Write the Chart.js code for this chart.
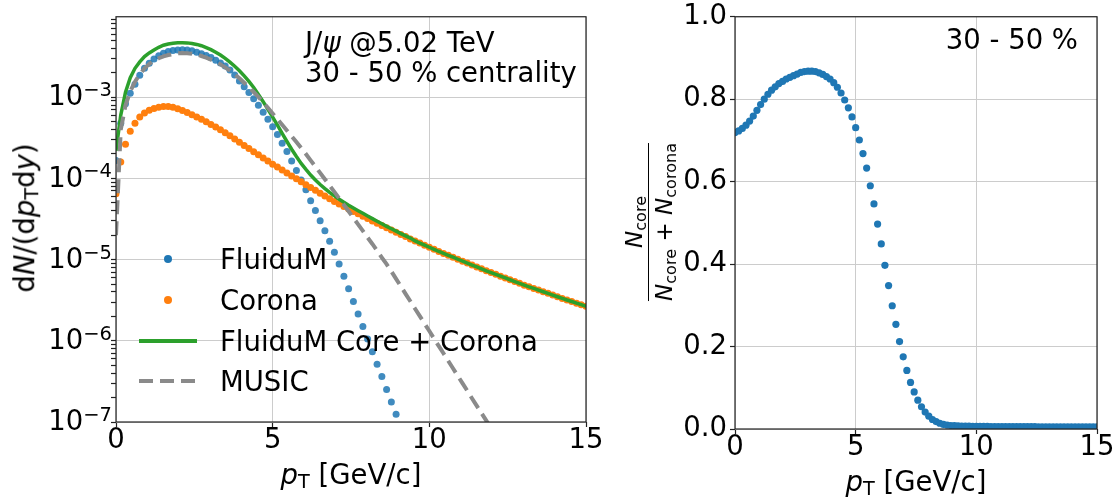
<!DOCTYPE html>
<html>
<head>
<meta charset="utf-8">
<script src="https://cdn.jsdelivr.net/npm/chart.js@4.4.1/dist/chart.umd.min.js"></script>
<style>
  body { margin: 0; width: 1116px; height: 503px; background: #fff; position: relative; overflow: hidden;
         font-family: 'DejaVu Sans', sans-serif; }
  canvas { position: absolute; top: 0; }
  #spectrum { left: 0; }
  #fraction { left: 600px; }
  .t { position: absolute; font-size: 27.5px; line-height: 27.5px; white-space: nowrap; color: #000; }
  .t i { font-style: italic; }
  .t sub { font-size: 0.7em; vertical-align: -0.22em; line-height: 0; }
  .rot { transform: translate(-50%, -50%) rotate(-90deg); }
  .frac { display: inline-flex; flex-direction: column; align-items: center; font-size: 23px; }
  .frac span { line-height: 26px; }
  .frac .bar { align-self: stretch; border-top: 1.4px solid #000; margin: 1px 0 2px 0; }
  .sw { position: absolute; }
</style>
</head>
<body>
<canvas id="spectrum" width="640" height="503"></canvas>
<canvas id="fraction" width="516" height="503"></canvas>

<!-- axis titles -->
<div class="t rot" style="left:25px; top:218px;">d<i>N</i>/(d<i>p</i><sub>T</sub>d<i>y</i>)</div>
<div class="t" style="left:351px; top:461px; transform:translateX(-50%);"><i>p</i><sub>T</sub> [GeV/c]</div>
<div class="t" style="left:916px; top:468px; transform:translateX(-50%);"><i>p</i><sub>T</sub> [GeV/c]</div>
<div class="t rot" style="left:648px; top:222px;">
  <div class="frac">
    <span><i>N</i><sub>core</sub></span>
    <div class="bar"></div>
    <span><i>N</i><sub>core</sub> + <i>N</i><sub>corona</sub></span>
  </div>
</div>

<!-- annotations -->
<div class="t" style="left:305px; top:27px; line-height:30px;">J/<i>ψ</i> @5.02 TeV<br>30 - 50 % centrality</div>
<div class="t" style="right:38px; top:26px;">30 - 50 %</div>

<!-- legend -->
<div class="sw" style="left:164px; top:255px; width:8px; height:8px; border-radius:50%; background:#1f77b4;"></div>
<div class="sw" style="left:164px; top:296px; width:8px; height:8px; border-radius:50%; background:#ff7f0e;"></div>
<div class="sw" style="left:139px; top:339px; width:58px; height:4px; background:#2ca02c;"></div>
<div class="sw" style="left:139px; top:379px; width:58px; height:4px;
     background:repeating-linear-gradient(to right, #8a8a8a 0 14px, transparent 14px 21px);"></div>
<div class="t" style="left:220px; top:246px;">FluiduM</div>
<div class="t" style="left:220px; top:287px;">Corona</div>
<div class="t" style="left:220px; top:328px;">FluiduM Core + Corona</div>
<div class="t" style="left:220px; top:368px;">MUSIC</div>

<script>
// transverse momentum grid, GeV/c
const pT = [
  0, 0.152, 0.303, 0.455, 0.606, 0.758, 0.909, 1.061, 1.212, 1.364,
  1.515, 1.667, 1.818, 1.970, 2.121, 2.273, 2.424, 2.576, 2.727, 2.879,
  3.030, 3.182, 3.333, 3.485, 3.636, 3.788, 3.939, 4.091, 4.242, 4.394,
  4.545, 4.697, 4.848, 5.000, 5.152, 5.303, 5.455, 5.606, 5.758, 5.909,
  6.061, 6.212, 6.364, 6.515, 6.667, 6.818, 6.970, 7.121, 7.273, 7.424,
  7.576, 7.727, 7.879, 8.030, 8.182, 8.333, 8.485, 8.636, 8.788, 8.939,
  9.091, 9.242, 9.394, 9.545, 9.697, 9.848, 10.000, 10.152, 10.303, 10.455,
  10.606, 10.758, 10.909, 11.061, 11.212, 11.364, 11.515, 11.667, 11.818, 11.970,
  12.121, 12.273, 12.424, 12.576, 12.727, 12.879, 13.030, 13.182, 13.333, 13.485,
  13.636, 13.788, 13.939, 14.091, 14.242, 14.394, 14.545, 14.697, 14.848, 15.000
];

// dN/(dpT dy), FluiduM core (points below 1e-7 are left out)
const fluidum = [
  1.66e-4, 4.79e-4, 8.32e-4, 1.12e-3, 1.45e-3, 1.86e-3, 2.27e-3, 2.63e-3, 2.95e-3, 3.24e-3,
  3.47e-3, 3.65e-3, 3.76e-3, 3.82e-3, 3.85e-3, 3.82e-3, 3.73e-3, 3.59e-3, 3.43e-3, 3.26e-3,
  3.08e-3, 2.86e-3, 2.64e-3, 2.42e-3, 2.16e-3, 1.88e-3, 1.59e-3, 1.35e-3, 1.14e-3, 9.55e-4,
  7.94e-4, 6.53e-4, 5.37e-4, 4.32e-4, 3.47e-4, 2.72e-4, 2.14e-4, 1.64e-4, 1.25e-4, 9.55e-5,
  7.24e-5, 5.31e-5, 4.03e-5, 3.02e-5, 2.27e-5, 1.68e-5, 1.23e-5, 8.81e-6, 6.24e-6, 4.37e-6,
  3.05e-6, 2.14e-6, 1.50e-6, 1.05e-6, 7.33e-7, 5.13e-7, 3.63e-7, 2.51e-7, 1.76e-7, 1.25e-7
];

// corona contribution
const corona = [
  6.46e-5, 1.59e-4, 2.63e-4, 3.80e-4, 4.79e-4, 5.69e-4, 6.38e-4, 6.92e-4, 7.28e-4, 7.55e-4,
  7.69e-4, 7.67e-4, 7.50e-4, 7.21e-4, 6.87e-4, 6.49e-4, 6.10e-4, 5.71e-4, 5.35e-4, 4.99e-4,
  4.63e-4, 4.30e-4, 3.98e-4, 3.66e-4, 3.35e-4, 3.05e-4, 2.79e-4, 2.54e-4, 2.33e-4, 2.13e-4,
  1.95e-4, 1.79e-4, 1.64e-4, 1.50e-4, 1.38e-4, 1.27e-4, 1.17e-4, 1.07e-4, 9.89e-5, 9.10e-5,
  8.38e-5, 7.73e-5, 7.13e-5, 6.58e-5, 6.08e-5, 5.62e-5, 5.21e-5, 4.84e-5, 4.50e-5, 4.19e-5,
  3.91e-5, 3.66e-5, 3.42e-5, 3.21e-5, 3.00e-5, 2.81e-5, 2.63e-5, 2.47e-5, 2.32e-5, 2.18e-5,
  2.04e-5, 1.92e-5, 1.80e-5, 1.69e-5, 1.60e-5, 1.50e-5, 1.42e-5, 1.34e-5, 1.26e-5, 1.19e-5,
  1.13e-5, 1.07e-5, 1.01e-5, 9.55e-6, 9.06e-6, 8.57e-6, 8.13e-6, 7.71e-6, 7.29e-6, 6.92e-6,
  6.58e-6, 6.25e-6, 5.94e-6, 5.65e-6, 5.37e-6, 5.11e-6, 4.85e-6, 4.62e-6, 4.42e-6, 4.22e-6,
  4.02e-6, 3.84e-6, 3.66e-6, 3.49e-6, 3.33e-6, 3.18e-6, 3.05e-6, 2.91e-6, 2.79e-6, 2.66e-6
];

// core + corona
const coreCorona = [
  2.19e-4, 6.03e-4, 1.15e-3, 1.74e-3, 2.27e-3, 2.72e-3, 3.16e-3, 3.51e-3, 3.82e-3, 4.12e-3,
  4.37e-3, 4.53e-3, 4.63e-3, 4.69e-3, 4.70e-3, 4.67e-3, 4.59e-3, 4.47e-3, 4.31e-3, 4.09e-3,
  3.86e-3, 3.59e-3, 3.31e-3, 3.01e-3, 2.71e-3, 2.41e-3, 2.12e-3, 1.83e-3, 1.57e-3, 1.32e-3,
  1.08e-3, 8.81e-4, 7.08e-4, 5.69e-4, 4.52e-4, 3.59e-4, 2.85e-4, 2.29e-4, 1.86e-4, 1.53e-4,
  1.29e-4, 1.10e-4, 9.55e-5, 8.41e-5, 7.50e-5, 6.73e-5, 6.10e-5, 5.55e-5, 5.08e-5, 4.68e-5,
  4.33e-5, 4.01e-5, 3.72e-5, 3.45e-5, 3.20e-5, 2.97e-5, 2.76e-5, 2.57e-5, 2.40e-5, 2.24e-5,
  2.09e-5, 1.96e-5, 1.84e-5, 1.70e-5, 1.60e-5, 1.51e-5, 1.42e-5, 1.34e-5, 1.26e-5, 1.19e-5,
  1.13e-5, 1.07e-5, 1.01e-5, 9.55e-6, 9.06e-6, 8.57e-6, 8.13e-6, 7.71e-6, 7.29e-6, 6.92e-6,
  6.58e-6, 6.25e-6, 5.94e-6, 5.65e-6, 5.37e-6, 5.11e-6, 4.85e-6, 4.62e-6, 4.42e-6, 4.22e-6,
  4.02e-6, 3.84e-6, 3.66e-6, 3.49e-6, 3.33e-6, 3.18e-6, 3.05e-6, 2.91e-6, 2.79e-6, 2.66e-6
];

// MUSIC curve (runs out of the frame below 1e-7)
const music = [
  2.00e-5, 3.98e-4, 7.94e-4, 1.18e-3, 1.55e-3, 1.91e-3, 2.27e-3, 2.57e-3, 2.82e-3, 3.02e-3,
  3.18e-3, 3.31e-3, 3.40e-3, 3.47e-3, 3.50e-3, 3.49e-3, 3.44e-3, 3.36e-3, 3.22e-3, 3.07e-3,
  2.90e-3, 2.73e-3, 2.54e-3, 2.33e-3, 2.12e-3, 1.91e-3, 1.71e-3, 1.51e-3, 1.33e-3, 1.16e-3,
  1.01e-3, 8.67e-4, 7.41e-4, 6.31e-4, 5.37e-4, 4.57e-4, 3.89e-4, 3.31e-4, 2.81e-4, 2.37e-4,
  2.00e-4, 1.67e-4, 1.40e-4, 1.17e-4, 9.77e-5, 8.17e-5, 6.82e-5, 5.69e-5, 4.73e-5, 3.94e-5,
  3.27e-5, 2.72e-5, 2.26e-5, 1.87e-5, 1.56e-5, 1.29e-5, 1.06e-5, 8.79e-6, 7.16e-6, 5.79e-6,
  4.69e-6, 3.79e-6, 3.07e-6, 2.48e-6, 2.01e-6, 1.63e-6, 1.32e-6, 1.06e-6, 8.61e-7, 6.97e-7,
  5.64e-7, 4.56e-7, 3.69e-7, 2.99e-7, 2.42e-7, 1.95e-7, 1.58e-7, 1.28e-7, 1.04e-7, 8.38e-8,
  6.76e-8
];

// N_core / (N_core + N_corona)
const coreFraction = [
  0.719, 0.723, 0.729, 0.737, 0.747, 0.759, 0.773, 0.787, 0.800, 0.812,
  0.822, 0.830, 0.838, 0.843, 0.849, 0.853, 0.857, 0.861, 0.865, 0.867,
  0.868, 0.868, 0.867, 0.864, 0.860, 0.855, 0.849, 0.840, 0.829, 0.815,
  0.798, 0.779, 0.757, 0.731, 0.701, 0.668, 0.633, 0.590, 0.546, 0.497,
  0.449, 0.397, 0.348, 0.299, 0.254, 0.212, 0.175, 0.142, 0.113, 0.090,
  0.070, 0.054, 0.041, 0.031, 0.023, 0.018, 0.014, 0.011, 0.0095, 0.0085,
  0.0080, 0.0076, 0.0073, 0.0070, 0.0068, 0.0066, 0.0065, 0.0064, 0.0063, 0.0062,
  0.0061, 0.0060, 0.0060, 0.0059, 0.0059, 0.0058, 0.0058, 0.0057, 0.0057, 0.0057,
  0.0056, 0.0056, 0.0056, 0.0055, 0.0055, 0.0055, 0.0055, 0.0054, 0.0054, 0.0054,
  0.0054, 0.0053, 0.0053, 0.0053, 0.0053, 0.0052, 0.0052, 0.0052, 0.0052, 0.0052
];

// axis ticks
const xTicks = [0, 5, 10, 15];
const decades = [1e-7, 1e-6, 1e-5, 1e-4, 1e-3];
const decadeExponents = ['−7', '−6', '−5', '−4', '−3'];
const minorSteps = [2, 3, 4, 5, 6, 7, 8, 9];
const fractionTicks = [0, 0.2, 0.4, 0.6, 0.8, 1.0];

const colors = {
    blue: '#1f77b4',
    orange: '#ff7f0e',
    green: '#2ca02c',
    grey: '#8a8a8a',
    grid: '#cccccc',
    axis: '#222222'
};

Chart.defaults.font.family = "'DejaVu Sans', sans-serif";
Chart.defaults.color = '#000';

const points = (ys) => ys.map((y, i) => ({ x: pT[i], y: y }));

// box around the plotting area, drawn over the data like matplotlib spines
const frame = {
    id: 'frame',
    afterDatasetsDraw(chart) {
        const { ctx, chartArea: a } = chart;
        ctx.save();
        ctx.strokeStyle = colors.axis;
        ctx.lineWidth = 1.2;
        ctx.strokeRect(a.left, a.top, a.right - a.left, a.bottom - a.top);
        ctx.restore();
    }
};

// "10" with a raised, smaller exponent for each decade of the log axis
const powerLabels = {
    id: 'powerLabels',
    afterDraw(chart) {
        const { ctx } = chart;
        const s = chart.scales.y;
        ctx.save();
        ctx.fillStyle = '#000';
        decades.forEach((d, k) => {
            const y = s.getPixelForValue(d);
            const right = s.right - 4;
            ctx.font = "19.5px 'DejaVu Sans'";
            const ew = ctx.measureText(decadeExponents[k]).width;
            ctx.textAlign = 'left';
            ctx.textBaseline = 'alphabetic';
            ctx.fillText(decadeExponents[k], right - ew, y - 1);
            ctx.font = "27.5px 'DejaVu Sans'";
            ctx.textAlign = 'right';
            ctx.textBaseline = 'middle';
            ctx.fillText('10', right - ew, y + 1);
        });
        ctx.restore();
    }
};

const tickFont = { size: 27.5, lineHeight: 1 };

function xScale(height) {
    return {
        type: 'linear',
        min: 0,
        max: 15,
        afterFit: s => { s.height = height; },
        afterBuildTicks: s => { s.ticks = xTicks.map(v => ({ value: v })); },
        border: { display: false },
        grid: { color: colors.grid, lineWidth: 1, tickLength: 5, tickColor: colors.axis, tickWidth: 1.2 },
        ticks: { font: tickFont, padding: 0, maxRotation: 0, autoSkip: false }
    };
}

new Chart(document.getElementById('spectrum'), {
    type: 'scatter',
    data: {
        datasets: [
            {
                label: 'FluiduM',
                data: points(fluidum),
                pointRadius: 3.5,
                pointBorderWidth: 0,
                pointBackgroundColor: 'rgba(31,119,180,0.85)',
                clip: 0,
                order: 4
            },
            {
                label: 'Corona',
                data: points(corona),
                pointRadius: 3.5,
                pointBorderWidth: 0,
                pointBackgroundColor: colors.orange,
                clip: 0,
                order: 3
            },
            {
                label: 'FluiduM Core + Corona',
                data: points(coreCorona),
                showLine: true,
                pointRadius: 0,
                borderColor: colors.green,
                borderWidth: 3.5,
                clip: 0,
                order: 2
            },
            {
                label: 'MUSIC',
                data: points(music),
                showLine: true,
                pointRadius: 0,
                borderColor: colors.grey,
                borderWidth: 4,
                borderDash: [14, 7],
                clip: 0,
                order: 1
            }
        ]
    },
    options: {
        responsive: false,
        animation: false,
        layout: { padding: { top: 15, right: 54, left: 0, bottom: 0 } },
        plugins: { legend: { display: false }, tooltip: { enabled: false } },
        scales: {
            x: xScale(81),
            y: {
                type: 'logarithmic',
                min: 1e-7,
                max: 9.8e-3,
                afterFit: s => { s.width = 116; },
                afterBuildTicks: s => {
                    const ticks = [];
                    decades.forEach(d => {
                        ticks.push({ value: d });
                        minorSteps.forEach(m => {
                            if (m * d <= s.max) ticks.push({ value: m * d });
                        });
                    });
                    s.ticks = ticks;
                },
                border: { display: false },
                grid: {
                    color: c => (c.tick && decades.includes(c.tick.value)) ? colors.grid : 'rgba(0,0,0,0)',
                    lineWidth: 1,
                    tickLength: 5,
                    tickColor: colors.axis,
                    tickWidth: 1.2
                },
                // labels are drawn by powerLabels
                ticks: { font: tickFont, padding: 3, autoSkip: false, callback: () => '' }
            }
        }
    },
    plugins: [frame, powerLabels]
});

new Chart(document.getElementById('fraction'), {
    type: 'scatter',
    data: {
        datasets: [{
            label: 'core fraction',
            data: points(coreFraction),
            pointRadius: 3.6,
            pointBorderWidth: 0,
            pointBackgroundColor: colors.blue,
            clip: 0
        }]
    },
    options: {
        responsive: false,
        animation: false,
        layout: { padding: { top: 16, right: 19, left: 0, bottom: 0 } },
        plugins: { legend: { display: false }, tooltip: { enabled: false } },
        scales: {
            x: xScale(74),
            y: {
                type: 'linear',
                min: 0,
                max: 1,
                afterFit: s => { s.width = 135; },
                afterBuildTicks: s => { s.ticks = fractionTicks.map(v => ({ value: v })); },
                border: { display: false },
                grid: { color: colors.grid, lineWidth: 1, tickLength: 5, tickColor: colors.axis, tickWidth: 1.2 },
                ticks: { font: tickFont, padding: 3, autoSkip: false, callback: v => v.toFixed(1) }
            }
        }
    },
    plugins: [frame]
});
</script>
</body>
</html>
